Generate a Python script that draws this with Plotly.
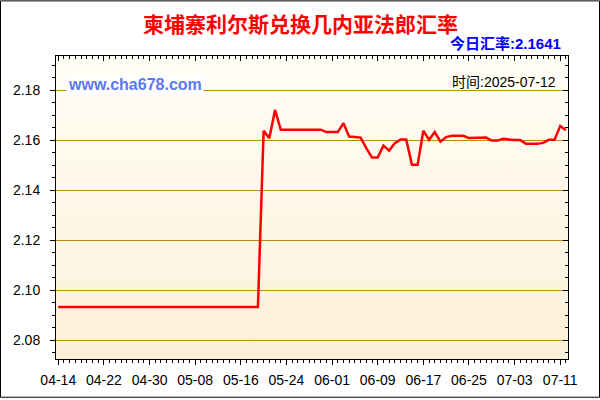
import base64
import pandas as pd
import plotly.graph_objects as go

# ---- data ----
start_date = "2025-04-14"
rates = (
    [2.0932] * 36
    + [2.1638, 2.1609, 2.1722]
    + [2.1643] * 8
    + [2.1633] * 3
    + [2.1669, 2.1615, 2.1613, 2.1611, 2.1569, 2.1531, 2.1531, 2.1579, 2.1559,
       2.1589, 2.1603, 2.1603, 2.1502, 2.1502, 2.1639, 2.1602, 2.1633, 2.1595,
       2.1613, 2.1618, 2.1618, 2.1618, 2.1609, 2.1609, 2.1611, 2.1611, 2.1599,
       2.1599, 2.1606, 2.1603, 2.1601, 2.1601, 2.1586, 2.1586, 2.1586, 2.1590,
       2.1602, 2.1602, 2.1658, 2.1641]
)
dates = list(pd.date_range(start_date, periods=len(rates), freq="D"))
y_ticks = [2.08, 2.10, 2.12, 2.14, 2.16, 2.18]
title_text = "柬埔寨利尔斯兑换几内亚法郎汇率"
today_text = "今日汇率:2.1641"
site_text = "www.cha678.com"
time_text = "时间:2025-07-12"

# ---- layout geometry (pixels) ----
W, H = 600, 400
L, R, T, B = 56, 568, 56, 361
pw, ph = R - L, B - T


def px(x):
    return (x - L) / pw


def py(y):
    return (B - y) / ph


x_range = ["2025-04-13 14:24", "2025-07-12 08:40"]
y_range = [2.0724, 2.1938]

svg = ('<svg xmlns="http://www.w3.org/2000/svg" width="100" height="100" preserveAspectRatio="none">'
       '<defs><linearGradient id="g" x1="0" y1="0" x2="0" y2="1">'
       '<stop offset="0" stop-color="#fffef6"/><stop offset="1" stop-color="#fcf0d8"/>'
       '</linearGradient></defs><rect width="100" height="100" fill="url(#g)"/></svg>')
svg_uri = "data:image/svg+xml;base64," + base64.b64encode(svg.encode()).decode()

fig = go.Figure()
fig.add_trace(go.Scatter(x=dates, y=rates, mode="lines",
                         line=dict(color="#ff0000", width=2.5),
                         showlegend=False, hoverinfo="x+y"))
fig.add_trace(go.Scatter(x=dates[:1], y=rates[:1], mode="lines", xaxis="x2", yaxis="y2",
                         line=dict(color="rgba(0,0,0,0)"), showlegend=False, hoverinfo="skip"))

tickfont = dict(family="Liberation Sans, Arial, sans-serif", size=14, color="#000000")
DAY = 86400000

fig.update_layout(
    width=W, height=H,
    margin=dict(l=L, r=W - R, t=T, b=H - B, pad=0),
    paper_bgcolor="#ffffff",
    plot_bgcolor="rgba(0,0,0,0)",
    showlegend=False,
    xaxis=dict(
        type="date", range=x_range, tick0=start_date, dtick=8 * DAY,
        tickformat="%m-%d", ticks="outside", ticklen=5, tickcolor="#000",
        tickfont=tickfont, ticklabelstandoff=3,
        showgrid=False, zeroline=False,
        showline=True, linecolor="#000", linewidth=1, mirror=True,
        minor=dict(dtick=DAY, tick0=start_date, ticks="outside", ticklen=3,
                   tickcolor="#000", showgrid=False),
    ),
    yaxis=dict(
        range=y_range, tick0=2.08, dtick=0.02, tickformat=".2f",
        tickvals=y_ticks,
        ticks="outside", ticklen=5, tickcolor="#000", tickfont=tickfont,
        ticklabelstandoff=7,
        showgrid=True, gridcolor="#bf8a12", gridwidth=1, zeroline=False,
        showline=True, linecolor="#000", linewidth=1, mirror=True,
        minor=dict(dtick=0.005, tick0=2.08, ticks="outside", ticklen=3,
                   tickcolor="#000", showgrid=False),
    ),
    xaxis2=dict(
        type="date", range=x_range, overlaying="x", side="top", anchor="y2",
        tick0=start_date, dtick=8 * DAY, ticks="inside", ticklen=5, tickcolor="#000",
        showticklabels=False, showgrid=False, zeroline=False, showline=False,
        minor=dict(dtick=DAY, tick0=start_date, ticks="inside", ticklen=3,
                   tickcolor="#000", showgrid=False),
    ),
    yaxis2=dict(
        range=y_range, overlaying="y", side="right", anchor="x2",
        tick0=2.08, dtick=0.02, ticks="inside", ticklen=5, tickcolor="#000",
        showticklabels=False, showgrid=False, zeroline=False, showline=False,
        minor=dict(dtick=0.005, tick0=2.08, ticks="inside", ticklen=3,
                   tickcolor="#000", showgrid=False),
    ),
    images=[dict(source=svg_uri, xref="paper", yref="paper", x=0, y=1,
                 sizex=1, sizey=1, sizing="stretch", xanchor="left",
                 yanchor="top", layer="below")],
    annotations=[
        dict(text="<b>" + title_text + "</b>", xref="paper", yref="paper",
             x=px(300), y=py(23), xanchor="center", yanchor="middle", showarrow=False,
             font=dict(family="Noto Sans CJK SC, sans-serif", size=21, color="#ff0000")),
        dict(text="<b>" + today_text + "</b>", xref="paper", yref="paper",
             x=px(563), y=py(43), xanchor="right", yanchor="middle", showarrow=False,
             font=dict(family="Liberation Sans, Noto Sans CJK SC, sans-serif", size=15,
                       color="#0000ff")),
        dict(text="<b>" + site_text + "</b>", xref="paper", yref="paper",
             x=px(66), y=py(84.5), xanchor="left", yanchor="middle", showarrow=False,
             bgcolor="#ffffff", borderpad=1,
             font=dict(family="Liberation Sans, Arial, sans-serif", size=16, color="#5a78f0")),
        dict(text=time_text, xref="paper", yref="paper",
             x=px(558), y=py(82), xanchor="right", yanchor="middle", showarrow=False,
             font=dict(family="Liberation Sans, Noto Sans CJK SC, sans-serif", size=14,
                       color="#000000")),
    ],
    shapes=[dict(type="rect", xref="paper", yref="paper",
                 x0=px(0.5), x1=px(599.5), y0=py(399.5), y1=py(0.5),
                 line=dict(color="#000000", width=1), fillcolor="rgba(0,0,0,0)",
                 layer="above")],
)

fig.write_html("out.html", config={"displayModeBar": False},
               post_script="document.body.style.margin='0';document.body.style.overflow='hidden';")
